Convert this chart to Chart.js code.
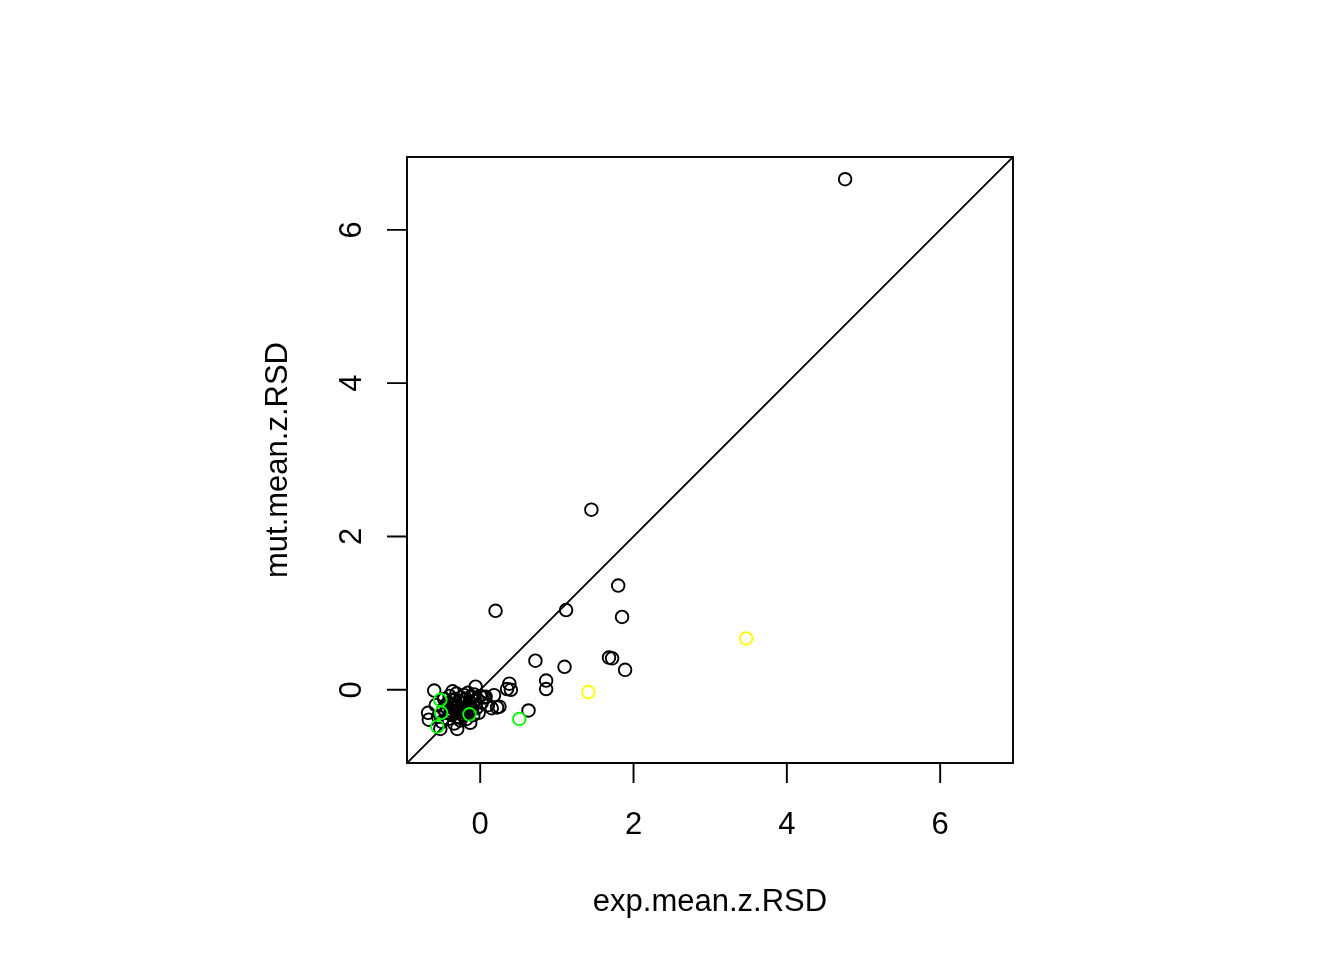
<!DOCTYPE html>
<html>
<head>
<meta charset="utf-8">
<script src="https://cdn.jsdelivr.net/npm/chart.js@4/dist/chart.umd.min.js"></script>
<style>
html,body{margin:0;padding:0;background:#fff;}
#wrap{width:1344px;height:960px;}
</style>
</head>
<body>
<div id="wrap"><canvas id="c" width="1344" height="960"></canvas></div>
<script>
// ---- data ----
const xTitle = "exp.mean.z.RSD";
const yTitle = "mut.mean.z.RSD";
const tickValues = [0, 2, 4, 6];
const axisMin = -0.955;
const axisMax = 6.95;

// black points: exp (x) and mut (y)
const blackX = [4.76, 1.45, 1.80, 0.20, 1.12, 1.85, 0.72, 1.10, 1.68, 1.72, 1.89, 0.86, 0.86, 0.63, 0.38, 0.40, 0.35, 0.25, 0.22, 0.18,
  -0.68, -0.67, -0.60, -0.58, -0.55, -0.52, -0.50, -0.48, -0.47, -0.45, -0.43, -0.42, -0.40, -0.38, -0.37, -0.36, -0.35, -0.34, -0.33, -0.32,
  -0.31, -0.30, -0.30, -0.29, -0.28, -0.27, -0.26, -0.25, -0.24, -0.23, -0.22, -0.21, -0.20, -0.19, -0.18, -0.17, -0.16, -0.15, -0.14, -0.13,
  -0.12, -0.11, -0.10, -0.09, -0.08, -0.07, -0.06, -0.05, -0.04, -0.02, 0.00, 0.02, 0.05, 0.07, 0.10, 0.15,
  -0.44, -0.39, -0.33, -0.27, -0.21, -0.15, -0.36, -0.24];
const blackY = [6.66, 2.35, 1.36, 1.03, 1.04, 0.95, 0.38, 0.30, 0.42, 0.41, 0.26, 0.12, 0.01, -0.27, 0.08, 0.00, 0.01, -0.22, -0.23, -0.07,
  -0.30, -0.39, -0.01, -0.20, -0.35, -0.51, -0.42, -0.25, -0.12, -0.30, -0.18, -0.38, -0.08, -0.27, -0.33, -0.02, -0.20, -0.44, -0.12, -0.28,
  -0.05, -0.51, -0.36, -0.22, -0.15, -0.30, -0.40, -0.10, -0.25, -0.33, -0.18, -0.07, -0.28, -0.12, -0.38, -0.22, -0.04, -0.30, -0.16, -0.43,
  -0.09, -0.25, -0.19, -0.33, -0.06, -0.14, 0.04, -0.24, -0.12, -0.30, -0.08, -0.17, -0.10, -0.09, -0.20, -0.24,
  -0.22, -0.31, -0.24, -0.36, -0.33, -0.21, -0.14, -0.17];

const greenX = [-0.52, -0.51, -0.56, -0.14, 0.51];
const greenY = [-0.13, -0.30, -0.48, -0.32, -0.38];

const yellowX = [3.47, 1.41];
const yellowY = [0.67, -0.03];

const lineX = [axisMin, axisMax];
const lineY = [axisMin, axisMax];

function pts(xs, ys){ return xs.map((x,i)=>({x:x, y:ys[i]})); }

const FONT = '"Liberation Sans", Arial, sans-serif';
const LW = 1.9;

const rAxes = {
  id: 'rAxes',
  afterDraw(chart){
    const ctx = chart.ctx;
    const xs = chart.scales.x, ys = chart.scales.y;
    const a = chart.chartArea;
    ctx.save();
    ctx.strokeStyle = '#000';
    ctx.fillStyle = '#000';
    ctx.lineWidth = LW;
    // box
    ctx.strokeRect(a.left, a.top, a.right - a.left, a.bottom - a.top);
    // x axis ticks
    ctx.font = '31px ' + FONT;
    ctx.textAlign = 'center';
    ctx.textBaseline = 'alphabetic';
    ctx.beginPath();
    ctx.moveTo(xs.getPixelForValue(tickValues[0]), a.bottom);
    ctx.lineTo(xs.getPixelForValue(tickValues[tickValues.length-1]), a.bottom);
    tickValues.forEach(v=>{
      const p = xs.getPixelForValue(v);
      ctx.moveTo(p, a.bottom);
      ctx.lineTo(p, a.bottom + 20);
    });
    ctx.stroke();
    tickValues.forEach(v=>{
      ctx.fillText(String(v), xs.getPixelForValue(v), 834);
    });
    ctx.fillText(xTitle, (a.left + a.right)/2, 911);
    // y axis ticks
    ctx.beginPath();
    ctx.moveTo(a.left, ys.getPixelForValue(tickValues[0]));
    ctx.lineTo(a.left, ys.getPixelForValue(tickValues[tickValues.length-1]));
    tickValues.forEach(v=>{
      const p = ys.getPixelForValue(v);
      ctx.moveTo(a.left, p);
      ctx.lineTo(a.left - 20, p);
    });
    ctx.stroke();
    tickValues.forEach(v=>{
      ctx.save();
      ctx.translate(361, ys.getPixelForValue(v));
      ctx.rotate(-Math.PI/2);
      ctx.fillText(String(v), 0, 0);
      ctx.restore();
    });
    ctx.save();
    ctx.translate(287, (a.top + a.bottom)/2);
    ctx.rotate(-Math.PI/2);
    ctx.fillText(yTitle, 0, 0);
    ctx.restore();
    ctx.restore();
  }
};

const ptStyle = (color) => ({
  type: 'scatter',
  pointStyle: 'circle',
  pointRadius: 6.3,
  pointHoverRadius: 6.3,
  pointBorderWidth: LW,
  borderColor: color,
  backgroundColor: 'rgba(0,0,0,0)',
  pointBackgroundColor: 'rgba(0,0,0,0)',
  pointBorderColor: color,
  clip: false
});

new Chart(document.getElementById('c'), {
  data: {
    datasets: [
      Object.assign({ label: 'green', data: pts(greenX, greenY) }, ptStyle('#00ff00')),
      Object.assign({ label: 'yellow', data: pts(yellowX, yellowY) }, ptStyle('#ffff00')),
      Object.assign({ label: 'black', data: pts(blackX, blackY) }, ptStyle('#000000')),
      {
        type: 'line', label: 'y=x', data: pts(lineX, lineY),
        borderColor: '#000', borderWidth: LW, pointRadius: 0, fill: false, tension: 0
      }
    ]
  },
  options: {
    responsive: false,
    animation: false,
    devicePixelRatio: 1,
    layout: { padding: { left: 407, right: 331, top: 157, bottom: 197 } },
    plugins: { legend: { display: false }, tooltip: { enabled: false } },
    scales: {
      x: { type: 'linear', min: axisMin, max: axisMax, display: false },
      y: { type: 'linear', min: axisMin, max: axisMax, display: false }
    }
  },
  plugins: [rAxes]
});
</script>
</body>
</html>
